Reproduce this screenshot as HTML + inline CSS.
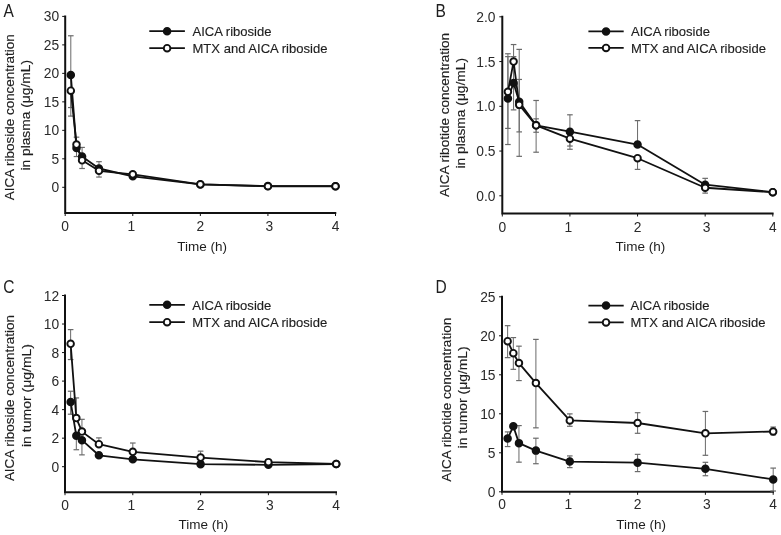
<!DOCTYPE html>
<html><head><meta charset="utf-8"><style>
html,body{margin:0;padding:0;background:#fff;width:781px;height:535px;overflow:hidden}
svg{display:block;filter:blur(0.45px)}
text{font-family:"Liberation Sans",sans-serif;font-size:13px;fill:#1e1e1e}
text.tk{font-size:13.8px;fill:#2a2a2a}
text.lg{font-size:13.5px}
text.lg,text.yt{stroke:#1e1e1e;stroke-width:0.15px}
text.yt{font-size:13.6px}
</style></head><body>
<svg width="781" height="535" viewBox="0 0 781 535">
<rect width="781" height="535" fill="#fff"/>
<path d="M65.2 16.4V213H335.3" fill="none" stroke="#111" stroke-width="2" stroke-linecap="square"/>
<line x1="62.2" y1="187.3" x2="65.2" y2="187.3" stroke="#111" stroke-width="1"/>
<text class="tk" x="59.2" y="192.3" text-anchor="end">0</text>
<line x1="62.2" y1="158.82" x2="65.2" y2="158.82" stroke="#111" stroke-width="1"/>
<text class="tk" x="59.2" y="163.82" text-anchor="end">5</text>
<line x1="62.2" y1="130.33" x2="65.2" y2="130.33" stroke="#111" stroke-width="1"/>
<text class="tk" x="59.2" y="135.33" text-anchor="end">10</text>
<line x1="62.2" y1="101.85" x2="65.2" y2="101.85" stroke="#111" stroke-width="1"/>
<text class="tk" x="59.2" y="106.85" text-anchor="end">15</text>
<line x1="62.2" y1="73.37" x2="65.2" y2="73.37" stroke="#111" stroke-width="1"/>
<text class="tk" x="59.2" y="78.37" text-anchor="end">20</text>
<line x1="62.2" y1="44.88" x2="65.2" y2="44.88" stroke="#111" stroke-width="1"/>
<text class="tk" x="59.2" y="49.88" text-anchor="end">25</text>
<line x1="62.2" y1="16.4" x2="65.2" y2="16.4" stroke="#111" stroke-width="1"/>
<text class="tk" x="59.2" y="21.4" text-anchor="end">30</text>
<line x1="65.2" y1="213" x2="65.2" y2="216" stroke="#111" stroke-width="1"/>
<text class="tk" x="65.2" y="231.1" text-anchor="middle">0</text>
<line x1="132.78" y1="213" x2="132.78" y2="216" stroke="#111" stroke-width="1"/>
<text class="tk" x="131.28" y="231.1" text-anchor="middle">1</text>
<line x1="200.35" y1="213" x2="200.35" y2="216" stroke="#111" stroke-width="1"/>
<text class="tk" x="200.35" y="231.1" text-anchor="middle">2</text>
<line x1="267.93" y1="213" x2="267.93" y2="216" stroke="#111" stroke-width="1"/>
<text class="tk" x="269.43" y="231.1" text-anchor="middle">3</text>
<line x1="335.5" y1="213" x2="335.5" y2="216" stroke="#111" stroke-width="1"/>
<text class="tk" x="335.5" y="231.1" text-anchor="middle">4</text>
<text x="202.2" y="250.7" text-anchor="middle" style="font-size:13.5px">Time (h)</text>
<text class="yt" transform="translate(14.4 200.3) rotate(-90)" textLength="166" lengthAdjust="spacingAndGlyphs">AICA riboside concentration</text>
<text class="yt" transform="translate(30 170.6) rotate(-90)" textLength="110.6" lengthAdjust="spacingAndGlyphs">in plasma (μg/mL)</text>
<text x="3.4" y="17" style="font-size:18.5px" transform="translate(3.4 0) scale(0.84 1) translate(-3.4 0)">A</text>
<line x1="70.81" y1="75.08" x2="70.81" y2="35.77" stroke="#6a6a6a" stroke-width="1"/>
<line x1="68.01" y1="35.77" x2="73.61" y2="35.77" stroke="#6a6a6a" stroke-width="1.2"/>
<line x1="70.81" y1="75.08" x2="70.81" y2="116.09" stroke="#6a6a6a" stroke-width="1"/>
<line x1="68.01" y1="116.09" x2="73.61" y2="116.09" stroke="#6a6a6a" stroke-width="1.2"/>
<line x1="76.49" y1="147.99" x2="76.49" y2="156.54" stroke="#6a6a6a" stroke-width="1"/>
<line x1="73.69" y1="156.54" x2="79.29" y2="156.54" stroke="#6a6a6a" stroke-width="1.2"/>
<line x1="82.09" y1="156.54" x2="82.09" y2="147.42" stroke="#6a6a6a" stroke-width="1"/>
<line x1="79.29" y1="147.42" x2="84.89" y2="147.42" stroke="#6a6a6a" stroke-width="1.2"/>
<line x1="98.99" y1="168.5" x2="98.99" y2="161.67" stroke="#6a6a6a" stroke-width="1"/>
<line x1="96.19" y1="161.67" x2="101.79" y2="161.67" stroke="#6a6a6a" stroke-width="1.2"/>
<line x1="70.81" y1="90.68" x2="70.81" y2="107.55" stroke="#6a6a6a" stroke-width="1"/>
<line x1="68.01" y1="107.55" x2="73.61" y2="107.55" stroke="#6a6a6a" stroke-width="1.2"/>
<line x1="76.49" y1="144.58" x2="76.49" y2="137.17" stroke="#6a6a6a" stroke-width="1"/>
<line x1="73.69" y1="137.17" x2="79.29" y2="137.17" stroke="#6a6a6a" stroke-width="1.2"/>
<line x1="82.09" y1="160.35" x2="82.09" y2="168.5" stroke="#6a6a6a" stroke-width="1"/>
<line x1="79.29" y1="168.5" x2="84.89" y2="168.5" stroke="#6a6a6a" stroke-width="1.2"/>
<line x1="98.99" y1="170.78" x2="98.99" y2="177.05" stroke="#6a6a6a" stroke-width="1"/>
<line x1="96.19" y1="177.05" x2="101.79" y2="177.05" stroke="#6a6a6a" stroke-width="1.2"/>
<path d="M70.81 75.08 L76.49 147.99 L82.09 156.54 L98.99 168.5 L132.78 176.36 L200.35 184.45 L267.93 186.05 L335.5 186.16" fill="none" stroke="#111" stroke-width="1.8" stroke-linejoin="round"/>
<path d="M70.81 90.68 L76.49 144.58 L82.09 160.35 L98.99 170.78 L132.78 174.31 L200.35 184.28 L267.93 186.27 L335.5 186.27" fill="none" stroke="#111" stroke-width="1.8" stroke-linejoin="round"/>
<circle cx="70.81" cy="75.08" r="3.3" fill="#111" stroke="#111" stroke-width="1.9"/>
<circle cx="76.49" cy="147.99" r="3.3" fill="#111" stroke="#111" stroke-width="1.9"/>
<circle cx="82.09" cy="156.54" r="3.3" fill="#111" stroke="#111" stroke-width="1.9"/>
<circle cx="98.99" cy="168.5" r="3.3" fill="#111" stroke="#111" stroke-width="1.9"/>
<circle cx="132.78" cy="176.36" r="3.3" fill="#111" stroke="#111" stroke-width="1.9"/>
<circle cx="200.35" cy="184.45" r="3.3" fill="#111" stroke="#111" stroke-width="1.9"/>
<circle cx="267.93" cy="186.05" r="3.3" fill="#111" stroke="#111" stroke-width="1.9"/>
<circle cx="335.5" cy="186.16" r="3.3" fill="#111" stroke="#111" stroke-width="1.9"/>
<circle cx="70.81" cy="90.68" r="3.3" fill="#fff" stroke="#111" stroke-width="1.9"/>
<circle cx="76.49" cy="144.58" r="3.3" fill="#fff" stroke="#111" stroke-width="1.9"/>
<circle cx="82.09" cy="160.35" r="3.3" fill="#fff" stroke="#111" stroke-width="1.9"/>
<circle cx="98.99" cy="170.78" r="3.3" fill="#fff" stroke="#111" stroke-width="1.9"/>
<circle cx="132.78" cy="174.31" r="3.3" fill="#fff" stroke="#111" stroke-width="1.9"/>
<circle cx="200.35" cy="184.28" r="3.3" fill="#fff" stroke="#111" stroke-width="1.9"/>
<circle cx="267.93" cy="186.27" r="3.3" fill="#fff" stroke="#111" stroke-width="1.9"/>
<circle cx="335.5" cy="186.27" r="3.3" fill="#fff" stroke="#111" stroke-width="1.9"/>
<line x1="149.3" y1="31.2" x2="184.9" y2="31.2" stroke="#111" stroke-width="1.8"/>
<circle cx="167.1" cy="31.2" r="3.3" fill="#111" stroke="#111" stroke-width="1.9"/>
<line x1="149.3" y1="48.2" x2="184.9" y2="48.2" stroke="#111" stroke-width="1.8"/>
<circle cx="167.1" cy="48.2" r="3.3" fill="#fff" stroke="#111" stroke-width="1.9"/>
<text class="lg" x="192.5" y="36" textLength="79" lengthAdjust="spacingAndGlyphs">AICA riboside</text>
<text class="lg" x="192.5" y="53" textLength="134.9" lengthAdjust="spacingAndGlyphs">MTX and AICA riboside</text>
<path d="M502.3 16.8V213.5H772.6" fill="none" stroke="#111" stroke-width="2" stroke-linecap="square"/>
<line x1="499.3" y1="195.8" x2="502.3" y2="195.8" stroke="#111" stroke-width="1"/>
<text class="tk" x="495.5" y="200.8" text-anchor="end">0.0</text>
<line x1="499.3" y1="151.05" x2="502.3" y2="151.05" stroke="#111" stroke-width="1"/>
<text class="tk" x="495.5" y="156.05" text-anchor="end">0.5</text>
<line x1="499.3" y1="106.3" x2="502.3" y2="106.3" stroke="#111" stroke-width="1"/>
<text class="tk" x="495.5" y="111.3" text-anchor="end">1.0</text>
<line x1="499.3" y1="61.55" x2="502.3" y2="61.55" stroke="#111" stroke-width="1"/>
<text class="tk" x="495.5" y="66.55" text-anchor="end">1.5</text>
<line x1="499.3" y1="16.8" x2="502.3" y2="16.8" stroke="#111" stroke-width="1"/>
<text class="tk" x="495.5" y="21.8" text-anchor="end">2.0</text>
<line x1="502.3" y1="213.5" x2="502.3" y2="216.5" stroke="#111" stroke-width="1"/>
<text class="tk" x="502.3" y="232.4" text-anchor="middle">0</text>
<line x1="569.92" y1="213.5" x2="569.92" y2="216.5" stroke="#111" stroke-width="1"/>
<text class="tk" x="568.42" y="232.4" text-anchor="middle">1</text>
<line x1="637.55" y1="213.5" x2="637.55" y2="216.5" stroke="#111" stroke-width="1"/>
<text class="tk" x="637.55" y="232.4" text-anchor="middle">2</text>
<line x1="705.17" y1="213.5" x2="705.17" y2="216.5" stroke="#111" stroke-width="1"/>
<text class="tk" x="706.67" y="232.4" text-anchor="middle">3</text>
<line x1="772.8" y1="213.5" x2="772.8" y2="216.5" stroke="#111" stroke-width="1"/>
<text class="tk" x="772.8" y="232.4" text-anchor="middle">4</text>
<text x="640.3" y="250.7" text-anchor="middle" style="font-size:13.5px">Time (h)</text>
<text class="yt" transform="translate(449 197) rotate(-90)" textLength="164" lengthAdjust="spacingAndGlyphs">AICA ribotide concentration</text>
<text class="yt" transform="translate(465 168.5) rotate(-90)" textLength="110.6" lengthAdjust="spacingAndGlyphs">in plasma (μg/mL)</text>
<text x="435.4" y="16.8" style="font-size:18.5px" transform="translate(435.4 0) scale(0.84 1) translate(-435.4 0)">B</text>
<line x1="507.91" y1="98.51" x2="507.91" y2="56.63" stroke="#6a6a6a" stroke-width="1"/>
<line x1="505.11" y1="56.63" x2="510.71" y2="56.63" stroke="#6a6a6a" stroke-width="1.2"/>
<line x1="507.91" y1="98.51" x2="507.91" y2="128.41" stroke="#6a6a6a" stroke-width="1"/>
<line x1="505.11" y1="128.41" x2="510.71" y2="128.41" stroke="#6a6a6a" stroke-width="1.2"/>
<line x1="513.59" y1="83.03" x2="513.59" y2="56.63" stroke="#6a6a6a" stroke-width="1"/>
<line x1="510.79" y1="56.63" x2="516.39" y2="56.63" stroke="#6a6a6a" stroke-width="1.2"/>
<line x1="513.59" y1="83.03" x2="513.59" y2="109.88" stroke="#6a6a6a" stroke-width="1"/>
<line x1="510.79" y1="109.88" x2="516.39" y2="109.88" stroke="#6a6a6a" stroke-width="1.2"/>
<line x1="519.21" y1="101.83" x2="519.21" y2="79.45" stroke="#6a6a6a" stroke-width="1"/>
<line x1="516.41" y1="79.45" x2="522.01" y2="79.45" stroke="#6a6a6a" stroke-width="1.2"/>
<line x1="519.21" y1="101.83" x2="519.21" y2="131.9" stroke="#6a6a6a" stroke-width="1"/>
<line x1="516.41" y1="131.9" x2="522.01" y2="131.9" stroke="#6a6a6a" stroke-width="1.2"/>
<line x1="536.11" y1="125.36" x2="536.11" y2="118.83" stroke="#6a6a6a" stroke-width="1"/>
<line x1="533.31" y1="118.83" x2="538.91" y2="118.83" stroke="#6a6a6a" stroke-width="1.2"/>
<line x1="536.11" y1="125.36" x2="536.11" y2="132.26" stroke="#6a6a6a" stroke-width="1"/>
<line x1="533.31" y1="132.26" x2="538.91" y2="132.26" stroke="#6a6a6a" stroke-width="1.2"/>
<line x1="569.92" y1="131.72" x2="569.92" y2="114.8" stroke="#6a6a6a" stroke-width="1"/>
<line x1="567.12" y1="114.8" x2="572.72" y2="114.8" stroke="#6a6a6a" stroke-width="1.2"/>
<line x1="569.92" y1="131.72" x2="569.92" y2="146.04" stroke="#6a6a6a" stroke-width="1"/>
<line x1="567.12" y1="146.04" x2="572.72" y2="146.04" stroke="#6a6a6a" stroke-width="1.2"/>
<line x1="637.55" y1="144.52" x2="637.55" y2="120.62" stroke="#6a6a6a" stroke-width="1"/>
<line x1="634.75" y1="120.62" x2="640.35" y2="120.62" stroke="#6a6a6a" stroke-width="1.2"/>
<line x1="705.17" y1="184.7" x2="705.17" y2="178.35" stroke="#6a6a6a" stroke-width="1"/>
<line x1="702.38" y1="178.35" x2="707.97" y2="178.35" stroke="#6a6a6a" stroke-width="1.2"/>
<line x1="507.91" y1="91.8" x2="507.91" y2="53.76" stroke="#6a6a6a" stroke-width="1"/>
<line x1="505.11" y1="53.76" x2="510.71" y2="53.76" stroke="#6a6a6a" stroke-width="1.2"/>
<line x1="507.91" y1="91.8" x2="507.91" y2="144.52" stroke="#6a6a6a" stroke-width="1"/>
<line x1="505.11" y1="144.52" x2="510.71" y2="144.52" stroke="#6a6a6a" stroke-width="1.2"/>
<line x1="513.59" y1="61.55" x2="513.59" y2="44.55" stroke="#6a6a6a" stroke-width="1"/>
<line x1="510.79" y1="44.55" x2="516.39" y2="44.55" stroke="#6a6a6a" stroke-width="1.2"/>
<line x1="519.21" y1="104.87" x2="519.21" y2="49.38" stroke="#6a6a6a" stroke-width="1"/>
<line x1="516.41" y1="49.38" x2="522.01" y2="49.38" stroke="#6a6a6a" stroke-width="1.2"/>
<line x1="519.21" y1="104.87" x2="519.21" y2="156.33" stroke="#6a6a6a" stroke-width="1"/>
<line x1="516.41" y1="156.33" x2="522.01" y2="156.33" stroke="#6a6a6a" stroke-width="1.2"/>
<line x1="536.11" y1="125.36" x2="536.11" y2="100.48" stroke="#6a6a6a" stroke-width="1"/>
<line x1="533.31" y1="100.48" x2="538.91" y2="100.48" stroke="#6a6a6a" stroke-width="1.2"/>
<line x1="536.11" y1="125.36" x2="536.11" y2="152.21" stroke="#6a6a6a" stroke-width="1"/>
<line x1="533.31" y1="152.21" x2="538.91" y2="152.21" stroke="#6a6a6a" stroke-width="1.2"/>
<line x1="569.92" y1="138.7" x2="569.92" y2="149.26" stroke="#6a6a6a" stroke-width="1"/>
<line x1="567.12" y1="149.26" x2="572.72" y2="149.26" stroke="#6a6a6a" stroke-width="1.2"/>
<line x1="637.55" y1="158.21" x2="637.55" y2="169.4" stroke="#6a6a6a" stroke-width="1"/>
<line x1="634.75" y1="169.4" x2="640.35" y2="169.4" stroke="#6a6a6a" stroke-width="1.2"/>
<line x1="705.17" y1="187.75" x2="705.17" y2="193.12" stroke="#6a6a6a" stroke-width="1"/>
<line x1="702.38" y1="193.12" x2="707.97" y2="193.12" stroke="#6a6a6a" stroke-width="1.2"/>
<path d="M507.91 98.51 L513.59 83.03 L519.21 101.83 L536.11 125.36 L569.92 131.72 L637.55 144.52 L705.17 184.7 L772.8 192.22" fill="none" stroke="#111" stroke-width="1.8" stroke-linejoin="round"/>
<path d="M507.91 91.8 L513.59 61.55 L519.21 104.87 L536.11 125.36 L569.92 138.7 L637.55 158.21 L705.17 187.75 L772.8 192.22" fill="none" stroke="#111" stroke-width="1.8" stroke-linejoin="round"/>
<circle cx="507.91" cy="98.51" r="3.3" fill="#111" stroke="#111" stroke-width="1.9"/>
<circle cx="513.59" cy="83.03" r="3.3" fill="#111" stroke="#111" stroke-width="1.9"/>
<circle cx="519.21" cy="101.83" r="3.3" fill="#111" stroke="#111" stroke-width="1.9"/>
<circle cx="536.11" cy="125.36" r="3.3" fill="#111" stroke="#111" stroke-width="1.9"/>
<circle cx="569.92" cy="131.72" r="3.3" fill="#111" stroke="#111" stroke-width="1.9"/>
<circle cx="637.55" cy="144.52" r="3.3" fill="#111" stroke="#111" stroke-width="1.9"/>
<circle cx="705.17" cy="184.7" r="3.3" fill="#111" stroke="#111" stroke-width="1.9"/>
<circle cx="772.8" cy="192.22" r="3.3" fill="#111" stroke="#111" stroke-width="1.9"/>
<circle cx="507.91" cy="91.8" r="3.3" fill="#fff" stroke="#111" stroke-width="1.9"/>
<circle cx="513.59" cy="61.55" r="3.3" fill="#fff" stroke="#111" stroke-width="1.9"/>
<circle cx="519.21" cy="104.87" r="3.3" fill="#fff" stroke="#111" stroke-width="1.9"/>
<circle cx="536.11" cy="125.36" r="3.3" fill="#fff" stroke="#111" stroke-width="1.9"/>
<circle cx="569.92" cy="138.7" r="3.3" fill="#fff" stroke="#111" stroke-width="1.9"/>
<circle cx="637.55" cy="158.21" r="3.3" fill="#fff" stroke="#111" stroke-width="1.9"/>
<circle cx="705.17" cy="187.75" r="3.3" fill="#fff" stroke="#111" stroke-width="1.9"/>
<circle cx="772.8" cy="192.22" r="3.3" fill="#fff" stroke="#111" stroke-width="1.9"/>
<line x1="588.4" y1="31.4" x2="623.7" y2="31.4" stroke="#111" stroke-width="1.8"/>
<circle cx="606.05" cy="31.4" r="3.3" fill="#111" stroke="#111" stroke-width="1.9"/>
<line x1="588.4" y1="47.9" x2="623.7" y2="47.9" stroke="#111" stroke-width="1.8"/>
<circle cx="606.05" cy="47.9" r="3.3" fill="#fff" stroke="#111" stroke-width="1.9"/>
<text class="lg" x="631" y="36.2" textLength="79" lengthAdjust="spacingAndGlyphs">AICA riboside</text>
<text class="lg" x="631" y="52.7" textLength="134.9" lengthAdjust="spacingAndGlyphs">MTX and AICA riboside</text>
<path d="M65 295.5V492.2H336" fill="none" stroke="#111" stroke-width="2" stroke-linecap="square"/>
<line x1="62" y1="466.7" x2="65" y2="466.7" stroke="#111" stroke-width="1"/>
<text class="tk" x="59.2" y="471.7" text-anchor="end">0</text>
<line x1="62" y1="438.17" x2="65" y2="438.17" stroke="#111" stroke-width="1"/>
<text class="tk" x="59.2" y="443.17" text-anchor="end">2</text>
<line x1="62" y1="409.63" x2="65" y2="409.63" stroke="#111" stroke-width="1"/>
<text class="tk" x="59.2" y="414.63" text-anchor="end">4</text>
<line x1="62" y1="381.1" x2="65" y2="381.1" stroke="#111" stroke-width="1"/>
<text class="tk" x="59.2" y="386.1" text-anchor="end">6</text>
<line x1="62" y1="352.57" x2="65" y2="352.57" stroke="#111" stroke-width="1"/>
<text class="tk" x="59.2" y="357.57" text-anchor="end">8</text>
<line x1="62" y1="324.03" x2="65" y2="324.03" stroke="#111" stroke-width="1"/>
<text class="tk" x="59.2" y="329.03" text-anchor="end">10</text>
<line x1="62" y1="295.5" x2="65" y2="295.5" stroke="#111" stroke-width="1"/>
<text class="tk" x="59.2" y="300.5" text-anchor="end">12</text>
<line x1="65" y1="492.2" x2="65" y2="495.2" stroke="#111" stroke-width="1"/>
<text class="tk" x="65" y="509.8" text-anchor="middle">0</text>
<line x1="132.8" y1="492.2" x2="132.8" y2="495.2" stroke="#111" stroke-width="1"/>
<text class="tk" x="131.3" y="509.8" text-anchor="middle">1</text>
<line x1="200.6" y1="492.2" x2="200.6" y2="495.2" stroke="#111" stroke-width="1"/>
<text class="tk" x="200.6" y="509.8" text-anchor="middle">2</text>
<line x1="268.4" y1="492.2" x2="268.4" y2="495.2" stroke="#111" stroke-width="1"/>
<text class="tk" x="269.9" y="509.8" text-anchor="middle">3</text>
<line x1="336.2" y1="492.2" x2="336.2" y2="495.2" stroke="#111" stroke-width="1"/>
<text class="tk" x="336.2" y="509.8" text-anchor="middle">4</text>
<text x="203.3" y="528.6" text-anchor="middle" style="font-size:13.5px">Time (h)</text>
<text class="yt" transform="translate(14.4 481.1) rotate(-90)" textLength="166" lengthAdjust="spacingAndGlyphs">AICA riboside concentration</text>
<text class="yt" transform="translate(30.8 447) rotate(-90)" textLength="103" lengthAdjust="spacingAndGlyphs">in tumor (μg/mL)</text>
<text x="3.2" y="292.6" style="font-size:18.5px" transform="translate(3.2 0) scale(0.84 1) translate(-3.2 0)">C</text>
<line x1="70.63" y1="401.93" x2="70.63" y2="391.23" stroke="#6a6a6a" stroke-width="1"/>
<line x1="67.83" y1="391.23" x2="73.43" y2="391.23" stroke="#6a6a6a" stroke-width="1.2"/>
<line x1="70.63" y1="401.93" x2="70.63" y2="414.2" stroke="#6a6a6a" stroke-width="1"/>
<line x1="67.83" y1="414.2" x2="73.43" y2="414.2" stroke="#6a6a6a" stroke-width="1.2"/>
<line x1="76.32" y1="435.74" x2="76.32" y2="449.72" stroke="#6a6a6a" stroke-width="1"/>
<line x1="73.52" y1="449.72" x2="79.12" y2="449.72" stroke="#6a6a6a" stroke-width="1.2"/>
<line x1="81.95" y1="440.16" x2="81.95" y2="454.86" stroke="#6a6a6a" stroke-width="1"/>
<line x1="79.15" y1="454.86" x2="84.75" y2="454.86" stroke="#6a6a6a" stroke-width="1.2"/>
<line x1="70.63" y1="343.86" x2="70.63" y2="329.6" stroke="#6a6a6a" stroke-width="1"/>
<line x1="67.83" y1="329.6" x2="73.43" y2="329.6" stroke="#6a6a6a" stroke-width="1.2"/>
<line x1="70.63" y1="343.86" x2="70.63" y2="359.56" stroke="#6a6a6a" stroke-width="1"/>
<line x1="67.83" y1="359.56" x2="73.43" y2="359.56" stroke="#6a6a6a" stroke-width="1.2"/>
<line x1="76.32" y1="418.05" x2="76.32" y2="397.93" stroke="#6a6a6a" stroke-width="1"/>
<line x1="73.52" y1="397.93" x2="79.12" y2="397.93" stroke="#6a6a6a" stroke-width="1.2"/>
<line x1="81.95" y1="431.6" x2="81.95" y2="419.33" stroke="#6a6a6a" stroke-width="1"/>
<line x1="79.15" y1="419.33" x2="84.75" y2="419.33" stroke="#6a6a6a" stroke-width="1.2"/>
<line x1="98.9" y1="444.16" x2="98.9" y2="437.88" stroke="#6a6a6a" stroke-width="1"/>
<line x1="96.1" y1="437.88" x2="101.7" y2="437.88" stroke="#6a6a6a" stroke-width="1.2"/>
<line x1="132.8" y1="451.86" x2="132.8" y2="443.02" stroke="#6a6a6a" stroke-width="1"/>
<line x1="130" y1="443.02" x2="135.6" y2="443.02" stroke="#6a6a6a" stroke-width="1.2"/>
<line x1="200.6" y1="457.57" x2="200.6" y2="451.15" stroke="#6a6a6a" stroke-width="1"/>
<line x1="197.8" y1="451.15" x2="203.4" y2="451.15" stroke="#6a6a6a" stroke-width="1.2"/>
<path d="M70.63 401.93 L76.32 435.74 L81.95 440.16 L98.9 455.29 L132.8 459.28 L200.6 464.13 L268.4 464.85 L336.2 463.99" fill="none" stroke="#111" stroke-width="1.8" stroke-linejoin="round"/>
<path d="M70.63 343.86 L76.32 418.05 L81.95 431.6 L98.9 444.16 L132.8 451.86 L200.6 457.57 L268.4 462.13 L336.2 463.99" fill="none" stroke="#111" stroke-width="1.8" stroke-linejoin="round"/>
<circle cx="70.63" cy="401.93" r="3.3" fill="#111" stroke="#111" stroke-width="1.9"/>
<circle cx="76.32" cy="435.74" r="3.3" fill="#111" stroke="#111" stroke-width="1.9"/>
<circle cx="81.95" cy="440.16" r="3.3" fill="#111" stroke="#111" stroke-width="1.9"/>
<circle cx="98.9" cy="455.29" r="3.3" fill="#111" stroke="#111" stroke-width="1.9"/>
<circle cx="132.8" cy="459.28" r="3.3" fill="#111" stroke="#111" stroke-width="1.9"/>
<circle cx="200.6" cy="464.13" r="3.3" fill="#111" stroke="#111" stroke-width="1.9"/>
<circle cx="268.4" cy="464.85" r="3.3" fill="#111" stroke="#111" stroke-width="1.9"/>
<circle cx="336.2" cy="463.99" r="3.3" fill="#111" stroke="#111" stroke-width="1.9"/>
<circle cx="70.63" cy="343.86" r="3.3" fill="#fff" stroke="#111" stroke-width="1.9"/>
<circle cx="76.32" cy="418.05" r="3.3" fill="#fff" stroke="#111" stroke-width="1.9"/>
<circle cx="81.95" cy="431.6" r="3.3" fill="#fff" stroke="#111" stroke-width="1.9"/>
<circle cx="98.9" cy="444.16" r="3.3" fill="#fff" stroke="#111" stroke-width="1.9"/>
<circle cx="132.8" cy="451.86" r="3.3" fill="#fff" stroke="#111" stroke-width="1.9"/>
<circle cx="200.6" cy="457.57" r="3.3" fill="#fff" stroke="#111" stroke-width="1.9"/>
<circle cx="268.4" cy="462.13" r="3.3" fill="#fff" stroke="#111" stroke-width="1.9"/>
<circle cx="336.2" cy="463.99" r="3.3" fill="#fff" stroke="#111" stroke-width="1.9"/>
<line x1="149.3" y1="304.8" x2="184.9" y2="304.8" stroke="#111" stroke-width="1.8"/>
<circle cx="167.1" cy="304.8" r="3.3" fill="#111" stroke="#111" stroke-width="1.9"/>
<line x1="149.3" y1="322.2" x2="184.9" y2="322.2" stroke="#111" stroke-width="1.8"/>
<circle cx="167.1" cy="322.2" r="3.3" fill="#fff" stroke="#111" stroke-width="1.9"/>
<text class="lg" x="192.3" y="309.6" textLength="79" lengthAdjust="spacingAndGlyphs">AICA riboside</text>
<text class="lg" x="192.3" y="327" textLength="134.9" lengthAdjust="spacingAndGlyphs">MTX and AICA riboside</text>
<path d="M502 296.8V491.8H773" fill="none" stroke="#111" stroke-width="2" stroke-linecap="square"/>
<line x1="499" y1="491.8" x2="502" y2="491.8" stroke="#111" stroke-width="1"/>
<text class="tk" x="495.5" y="496.8" text-anchor="end">0</text>
<line x1="499" y1="452.8" x2="502" y2="452.8" stroke="#111" stroke-width="1"/>
<text class="tk" x="495.5" y="457.8" text-anchor="end">5</text>
<line x1="499" y1="413.8" x2="502" y2="413.8" stroke="#111" stroke-width="1"/>
<text class="tk" x="495.5" y="418.8" text-anchor="end">10</text>
<line x1="499" y1="374.8" x2="502" y2="374.8" stroke="#111" stroke-width="1"/>
<text class="tk" x="495.5" y="379.8" text-anchor="end">15</text>
<line x1="499" y1="335.8" x2="502" y2="335.8" stroke="#111" stroke-width="1"/>
<text class="tk" x="495.5" y="340.8" text-anchor="end">20</text>
<line x1="499" y1="296.8" x2="502" y2="296.8" stroke="#111" stroke-width="1"/>
<text class="tk" x="495.5" y="301.8" text-anchor="end">25</text>
<line x1="502" y1="491.8" x2="502" y2="494.8" stroke="#111" stroke-width="1"/>
<text class="tk" x="502" y="509" text-anchor="middle">0</text>
<line x1="569.8" y1="491.8" x2="569.8" y2="494.8" stroke="#111" stroke-width="1"/>
<text class="tk" x="568.3" y="509" text-anchor="middle">1</text>
<line x1="637.6" y1="491.8" x2="637.6" y2="494.8" stroke="#111" stroke-width="1"/>
<text class="tk" x="637.6" y="509" text-anchor="middle">2</text>
<line x1="705.4" y1="491.8" x2="705.4" y2="494.8" stroke="#111" stroke-width="1"/>
<text class="tk" x="706.9" y="509" text-anchor="middle">3</text>
<line x1="773.2" y1="491.8" x2="773.2" y2="494.8" stroke="#111" stroke-width="1"/>
<text class="tk" x="773.2" y="509" text-anchor="middle">4</text>
<text x="641.2" y="528.6" text-anchor="middle" style="font-size:13.5px">Time (h)</text>
<text class="yt" transform="translate(451.4 481.8) rotate(-90)" textLength="164" lengthAdjust="spacingAndGlyphs">AICA ribotide concentration</text>
<text class="yt" transform="translate(467.2 448.4) rotate(-90)" textLength="102" lengthAdjust="spacingAndGlyphs">in tumor (μg/mL)</text>
<text x="435.6" y="293" style="font-size:18.5px" transform="translate(435.6 0) scale(0.84 1) translate(-435.6 0)">D</text>
<line x1="507.63" y1="438.6" x2="507.63" y2="431.9" stroke="#6a6a6a" stroke-width="1"/>
<line x1="504.83" y1="431.9" x2="510.43" y2="431.9" stroke="#6a6a6a" stroke-width="1.2"/>
<line x1="507.63" y1="438.6" x2="507.63" y2="446.56" stroke="#6a6a6a" stroke-width="1"/>
<line x1="504.83" y1="446.56" x2="510.43" y2="446.56" stroke="#6a6a6a" stroke-width="1.2"/>
<line x1="518.95" y1="443.13" x2="518.95" y2="425.58" stroke="#6a6a6a" stroke-width="1"/>
<line x1="516.15" y1="425.58" x2="521.75" y2="425.58" stroke="#6a6a6a" stroke-width="1.2"/>
<line x1="518.95" y1="443.13" x2="518.95" y2="462.16" stroke="#6a6a6a" stroke-width="1"/>
<line x1="516.15" y1="462.16" x2="521.75" y2="462.16" stroke="#6a6a6a" stroke-width="1.2"/>
<line x1="535.9" y1="450.62" x2="535.9" y2="438.21" stroke="#6a6a6a" stroke-width="1"/>
<line x1="533.1" y1="438.21" x2="538.7" y2="438.21" stroke="#6a6a6a" stroke-width="1.2"/>
<line x1="535.9" y1="450.62" x2="535.9" y2="463.72" stroke="#6a6a6a" stroke-width="1"/>
<line x1="533.1" y1="463.72" x2="538.7" y2="463.72" stroke="#6a6a6a" stroke-width="1.2"/>
<line x1="569.8" y1="461.54" x2="569.8" y2="455.92" stroke="#6a6a6a" stroke-width="1"/>
<line x1="567" y1="455.92" x2="572.6" y2="455.92" stroke="#6a6a6a" stroke-width="1.2"/>
<line x1="569.8" y1="461.54" x2="569.8" y2="467.62" stroke="#6a6a6a" stroke-width="1"/>
<line x1="567" y1="467.62" x2="572.6" y2="467.62" stroke="#6a6a6a" stroke-width="1.2"/>
<line x1="637.6" y1="462.63" x2="637.6" y2="454.36" stroke="#6a6a6a" stroke-width="1"/>
<line x1="634.8" y1="454.36" x2="640.4" y2="454.36" stroke="#6a6a6a" stroke-width="1.2"/>
<line x1="637.6" y1="462.63" x2="637.6" y2="471.6" stroke="#6a6a6a" stroke-width="1"/>
<line x1="634.8" y1="471.6" x2="640.4" y2="471.6" stroke="#6a6a6a" stroke-width="1.2"/>
<line x1="705.4" y1="468.79" x2="705.4" y2="462.32" stroke="#6a6a6a" stroke-width="1"/>
<line x1="702.6" y1="462.32" x2="708.2" y2="462.32" stroke="#6a6a6a" stroke-width="1.2"/>
<line x1="705.4" y1="468.79" x2="705.4" y2="475.73" stroke="#6a6a6a" stroke-width="1"/>
<line x1="702.6" y1="475.73" x2="708.2" y2="475.73" stroke="#6a6a6a" stroke-width="1.2"/>
<line x1="773.2" y1="479.48" x2="773.2" y2="468.09" stroke="#6a6a6a" stroke-width="1"/>
<line x1="770.4" y1="468.09" x2="776" y2="468.09" stroke="#6a6a6a" stroke-width="1.2"/>
<line x1="773.2" y1="479.48" x2="773.2" y2="491.02" stroke="#6a6a6a" stroke-width="1"/>
<line x1="770.4" y1="491.02" x2="776" y2="491.02" stroke="#6a6a6a" stroke-width="1.2"/>
<line x1="507.63" y1="341.18" x2="507.63" y2="325.66" stroke="#6a6a6a" stroke-width="1"/>
<line x1="504.83" y1="325.66" x2="510.43" y2="325.66" stroke="#6a6a6a" stroke-width="1.2"/>
<line x1="507.63" y1="341.18" x2="507.63" y2="357.64" stroke="#6a6a6a" stroke-width="1"/>
<line x1="504.83" y1="357.64" x2="510.43" y2="357.64" stroke="#6a6a6a" stroke-width="1.2"/>
<line x1="513.32" y1="353.19" x2="513.32" y2="337.59" stroke="#6a6a6a" stroke-width="1"/>
<line x1="510.52" y1="337.59" x2="516.12" y2="337.59" stroke="#6a6a6a" stroke-width="1.2"/>
<line x1="513.32" y1="353.19" x2="513.32" y2="369.34" stroke="#6a6a6a" stroke-width="1"/>
<line x1="510.52" y1="369.34" x2="516.12" y2="369.34" stroke="#6a6a6a" stroke-width="1.2"/>
<line x1="518.95" y1="363.1" x2="518.95" y2="346.17" stroke="#6a6a6a" stroke-width="1"/>
<line x1="516.15" y1="346.17" x2="521.75" y2="346.17" stroke="#6a6a6a" stroke-width="1.2"/>
<line x1="518.95" y1="363.1" x2="518.95" y2="380.57" stroke="#6a6a6a" stroke-width="1"/>
<line x1="516.15" y1="380.57" x2="521.75" y2="380.57" stroke="#6a6a6a" stroke-width="1.2"/>
<line x1="535.9" y1="383.07" x2="535.9" y2="339.39" stroke="#6a6a6a" stroke-width="1"/>
<line x1="533.1" y1="339.39" x2="538.7" y2="339.39" stroke="#6a6a6a" stroke-width="1.2"/>
<line x1="535.9" y1="383.07" x2="535.9" y2="427.84" stroke="#6a6a6a" stroke-width="1"/>
<line x1="533.1" y1="427.84" x2="538.7" y2="427.84" stroke="#6a6a6a" stroke-width="1.2"/>
<line x1="569.8" y1="420.43" x2="569.8" y2="413.88" stroke="#6a6a6a" stroke-width="1"/>
<line x1="567" y1="413.88" x2="572.6" y2="413.88" stroke="#6a6a6a" stroke-width="1.2"/>
<line x1="569.8" y1="420.43" x2="569.8" y2="426.28" stroke="#6a6a6a" stroke-width="1"/>
<line x1="567" y1="426.28" x2="572.6" y2="426.28" stroke="#6a6a6a" stroke-width="1.2"/>
<line x1="637.6" y1="423" x2="637.6" y2="412.71" stroke="#6a6a6a" stroke-width="1"/>
<line x1="634.8" y1="412.71" x2="640.4" y2="412.71" stroke="#6a6a6a" stroke-width="1.2"/>
<line x1="637.6" y1="423" x2="637.6" y2="433.3" stroke="#6a6a6a" stroke-width="1"/>
<line x1="634.8" y1="433.3" x2="640.4" y2="433.3" stroke="#6a6a6a" stroke-width="1.2"/>
<line x1="705.4" y1="433.3" x2="705.4" y2="411.46" stroke="#6a6a6a" stroke-width="1"/>
<line x1="702.6" y1="411.46" x2="708.2" y2="411.46" stroke="#6a6a6a" stroke-width="1.2"/>
<line x1="705.4" y1="433.3" x2="705.4" y2="455.3" stroke="#6a6a6a" stroke-width="1"/>
<line x1="702.6" y1="455.3" x2="708.2" y2="455.3" stroke="#6a6a6a" stroke-width="1.2"/>
<line x1="773.2" y1="431.51" x2="773.2" y2="427.06" stroke="#6a6a6a" stroke-width="1"/>
<line x1="770.4" y1="427.06" x2="776" y2="427.06" stroke="#6a6a6a" stroke-width="1.2"/>
<line x1="773.2" y1="431.51" x2="773.2" y2="434.86" stroke="#6a6a6a" stroke-width="1"/>
<line x1="770.4" y1="434.86" x2="776" y2="434.86" stroke="#6a6a6a" stroke-width="1.2"/>
<path d="M507.63 438.6 L513.32 426.28 L518.95 443.13 L535.9 450.62 L569.8 461.54 L637.6 462.63 L705.4 468.79 L773.2 479.48" fill="none" stroke="#111" stroke-width="1.8" stroke-linejoin="round"/>
<path d="M507.63 341.18 L513.32 353.19 L518.95 363.1 L535.9 383.07 L569.8 420.43 L637.6 423 L705.4 433.3 L773.2 431.51" fill="none" stroke="#111" stroke-width="1.8" stroke-linejoin="round"/>
<circle cx="507.63" cy="438.6" r="3.3" fill="#111" stroke="#111" stroke-width="1.9"/>
<circle cx="513.32" cy="426.28" r="3.3" fill="#111" stroke="#111" stroke-width="1.9"/>
<circle cx="518.95" cy="443.13" r="3.3" fill="#111" stroke="#111" stroke-width="1.9"/>
<circle cx="535.9" cy="450.62" r="3.3" fill="#111" stroke="#111" stroke-width="1.9"/>
<circle cx="569.8" cy="461.54" r="3.3" fill="#111" stroke="#111" stroke-width="1.9"/>
<circle cx="637.6" cy="462.63" r="3.3" fill="#111" stroke="#111" stroke-width="1.9"/>
<circle cx="705.4" cy="468.79" r="3.3" fill="#111" stroke="#111" stroke-width="1.9"/>
<circle cx="773.2" cy="479.48" r="3.3" fill="#111" stroke="#111" stroke-width="1.9"/>
<circle cx="507.63" cy="341.18" r="3.3" fill="#fff" stroke="#111" stroke-width="1.9"/>
<circle cx="513.32" cy="353.19" r="3.3" fill="#fff" stroke="#111" stroke-width="1.9"/>
<circle cx="518.95" cy="363.1" r="3.3" fill="#fff" stroke="#111" stroke-width="1.9"/>
<circle cx="535.9" cy="383.07" r="3.3" fill="#fff" stroke="#111" stroke-width="1.9"/>
<circle cx="569.8" cy="420.43" r="3.3" fill="#fff" stroke="#111" stroke-width="1.9"/>
<circle cx="637.6" cy="423" r="3.3" fill="#fff" stroke="#111" stroke-width="1.9"/>
<circle cx="705.4" cy="433.3" r="3.3" fill="#fff" stroke="#111" stroke-width="1.9"/>
<circle cx="773.2" cy="431.51" r="3.3" fill="#fff" stroke="#111" stroke-width="1.9"/>
<line x1="588.4" y1="305.6" x2="623.7" y2="305.6" stroke="#111" stroke-width="1.8"/>
<circle cx="606.05" cy="305.6" r="3.3" fill="#111" stroke="#111" stroke-width="1.9"/>
<line x1="588.4" y1="322.4" x2="623.7" y2="322.4" stroke="#111" stroke-width="1.8"/>
<circle cx="606.05" cy="322.4" r="3.3" fill="#fff" stroke="#111" stroke-width="1.9"/>
<text class="lg" x="630.5" y="310.4" textLength="79" lengthAdjust="spacingAndGlyphs">AICA riboside</text>
<text class="lg" x="630.5" y="327.2" textLength="134.9" lengthAdjust="spacingAndGlyphs">MTX and AICA riboside</text>
</svg>
</body></html>
